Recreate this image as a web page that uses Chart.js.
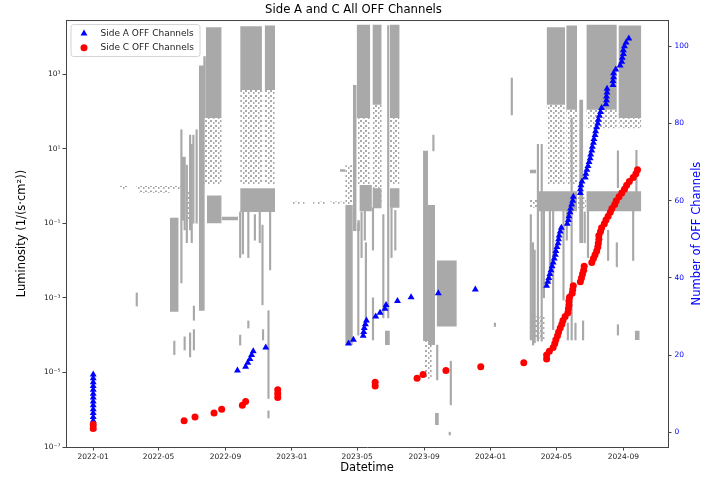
<!DOCTYPE html>
<html><head><meta charset="utf-8">
<script src="https://cdn.jsdelivr.net/npm/chart.js@4.4.1/dist/chart.umd.min.js"></script>
<style>html,body{margin:0;padding:0;background:#fff}canvas{display:block}</style>
</head><body>
<canvas id="c" width="707" height="477"></canvas>
<script>
// ---------- tick labels ----------
const xTickLabels = ['2022-01','2022-05','2022-09','2023-01','2023-05','2023-09','2024-01','2024-05','2024-09'];
const yTickValues = [1e-7, 1e-5, 1e-3, 1e-1, 1e1, 1e3];
const yTickLabels = ['10\u207B\u2077','10\u207B\u2075','10\u207B\u00B3','10\u207B\u00B9','10\u00B9','10\u00B3'];
const y2TickValues = [0, 20, 40, 60, 80, 100];

// ---------- Side A OFF channels (right axis) ----------
const sideADates = [
 '2022-01-01','2022-01-01','2022-01-01','2022-01-01','2022-01-01','2022-01-01','2022-01-01','2022-01-01',
 '2022-01-01','2022-01-01','2022-01-01','2022-01-01','2022-01-01','2022-01-01','2022-01-01',
 '2022-09-23','2022-10-08','2022-10-12','2022-10-16','2022-10-19','2022-10-22','2022-11-14',
 '2023-04-15','2023-04-24','2023-05-12','2023-05-13','2023-05-14','2023-05-16','2023-05-18',
 '2023-06-04','2023-06-12','2023-06-21','2023-06-23','2023-07-14','2023-08-08','2023-09-27','2023-12-04',
 '2024-04-13','2024-04-15','2024-04-17','2024-04-19','2024-04-21','2024-04-23','2024-04-25','2024-04-27','2024-04-29','2024-04-30',
 '2024-05-02','2024-05-04','2024-05-05','2024-05-06','2024-05-08','2024-05-10','2024-05-21','2024-05-23','2024-05-24','2024-05-26',
 '2024-05-27','2024-05-29','2024-05-31','2024-06-01','2024-06-14','2024-06-14','2024-06-15','2024-06-17','2024-06-23','2024-06-24',
 '2024-06-26','2024-06-28','2024-06-30','2024-07-02','2024-07-03','2024-07-05','2024-07-06','2024-07-08','2024-07-09','2024-07-11',
 '2024-07-12','2024-07-14','2024-07-16','2024-07-17','2024-07-19','2024-07-21','2024-07-23','2024-07-31','2024-08-01','2024-08-01',
 '2024-08-02','2024-08-02','2024-08-13','2024-08-13','2024-08-14','2024-08-14','2024-08-18','2024-08-26','2024-08-29','2024-08-30',
 '2024-09-01','2024-09-01','2024-09-03','2024-09-06','2024-09-11'
];
const sideAValues = [
 1,2,3,4,5,6,7,8,9,10,11,12,13,14,15,
 16,17,18,19,20,21,22,
 23,24,25,26,27,28,29,
 30,31,32,33,34,35,36,37,
 38,39,40,41,42,43,44,45,46,47,
 48,49,50,51,52,53,54,55,56,57,
 58,59,60,61,62,63,64,65,66,67,
 68,69,70,71,72,73,74,75,76,77,
 78,79,80,81,82,83,84,85,86,87,
 88,89,90,91,92,93,94,95,96,97,
 98,99,100,101,102
];

// ---------- Side C OFF channels (right axis) ----------
const sideCDates = [
 '2022-01-01','2022-01-01','2022-06-17','2022-07-07','2022-08-11','2022-08-25','2022-10-02','2022-10-08',
 '2022-12-06','2022-12-06','2022-12-06','2023-06-03','2023-06-03','2023-08-19','2023-08-30','2023-10-11','2023-12-14','2024-03-02',
 '2024-04-13','2024-04-13','2024-04-18','2024-04-25','2024-04-28','2024-04-30','2024-05-03','2024-05-05','2024-05-08','2024-05-11',
 '2024-05-13','2024-05-17','2024-05-22','2024-05-23','2024-05-24','2024-05-24','2024-05-25','2024-05-30','2024-05-31','2024-06-01',
 '2024-06-14','2024-06-16','2024-06-18','2024-06-20','2024-06-21','2024-07-05','2024-07-08','2024-07-11','2024-07-14','2024-07-16',
 '2024-07-17','2024-07-18','2024-07-18','2024-07-21','2024-07-23','2024-07-28','2024-07-31','2024-08-04','2024-08-08','2024-08-11',
 '2024-08-16','2024-08-19','2024-08-24','2024-08-29','2024-09-03','2024-09-07','2024-09-12','2024-09-19','2024-09-24','2024-09-27'
];
const sideCValues = [
 1,2,3,4,5,6,7,8,
 9,10,11,12,13,14,15,16,17,18,
 19,20,21,22,23,24,25,26,27,28,
 29,30,31,32,33,34,35,36,37,38,
 39,40,41,42,43,44,45,46,47,48,
 49,50,51,52,53,54,55,56,57,58,
 59,60,61,62,63,64,65,66,67,68
];

// ---------- Luminosity (left log axis): dense runs [start, end, low, high] ----------
const grayDense = [
 ['2022-05-22','2022-06-07', 4.2e-4, 0.14],
 ['2022-07-14','2022-07-25', 4.5e-4, 1.7e3],
 ['2022-07-22','2022-07-27', 66, 3.0e3],
 ['2022-07-27','2022-08-25', 66, 1.8e4],
 ['2022-07-29','2022-08-25', 0.1, 0.55],
 ['2022-08-25','2022-09-24', 0.12, 0.15],
 ['2022-09-28','2022-11-07', 370, 1.9e4],
 ['2022-11-12','2022-12-01', 370, 2.0e4],
 ['2022-09-28','2022-12-01', 0.2, 0.87],
 ['2023-03-30','2023-04-09', 2.4, 2.8],
 ['2023-04-09','2023-04-23', 5.4e-5, 0.31],
 ['2023-04-23','2023-04-30', 0.062, 510],
 ['2023-04-30','2023-05-25', 66, 2.1e4],
 ['2023-05-05','2023-05-28', 0.21, 1.05],
 ['2023-05-01','2023-05-06', 0.062, 0.12],
 ['2023-05-29','2023-06-15', 150, 2.1e4],
 ['2023-05-29','2023-06-15', 0.25, 0.87],
 ['2023-06-21','2023-06-30', 5.4e-5, 1.3e-4],
 ['2023-06-30','2023-07-18', 66, 2.1e4],
 ['2023-06-30','2023-07-18', 0.26, 0.87],
 ['2023-08-30','2023-09-08', 6.9e-5, 8.7],
 ['2023-09-08','2023-09-21', 5.4e-5, 0.31],
 ['2023-09-24','2023-10-31', 1.7e-4, 0.01],
 ['2023-09-21','2023-09-28', 3.9e-7, 8.1e-7],
 ['2024-03-13','2024-03-25', 2.2, 2.7],
 ['2024-04-13','2024-05-17', 150, 1.8e4],
 ['2024-05-19','2024-06-08', 110, 2.0e4],
 ['2024-06-25','2024-08-20', 110, 2.1e4],
 ['2024-08-23','2024-10-04', 66, 2.0e4],
 ['2024-03-28','2024-06-08', 0.21, 0.72],
 ['2024-06-25','2024-10-04', 0.21, 0.72],
 ['2024-09-22','2024-10-01', 7.4e-5, 1.3e-4]
];
// scattered (sparse) runs [start, end, low, high]
const graySparse = [
 ['2022-02-19','2022-03-06', 0.83, 1.0],
 ['2022-03-21','2022-06-15', 0.8, 1.0],
 ['2022-03-26','2022-05-22', 0.65, 0.75],
 ['2022-06-20','2022-07-05', 0.12, 0.72],
 ['2022-07-22','2022-08-25', 1.05, 66],
 ['2022-09-28','2022-11-07', 1.05, 370],
 ['2022-11-12','2022-12-01', 1.05, 370],
 ['2023-01-03','2023-01-16', 0.33, 0.38],
 ['2023-01-21','2023-01-25', 0.33, 0.38],
 ['2023-02-07','2023-02-12', 0.33, 0.38],
 ['2023-02-18','2023-03-03', 0.33, 0.38],
 ['2023-03-12','2023-04-09', 0.33, 0.38],
 ['2023-04-09','2023-04-23', 0.31, 3.6],
 ['2023-04-30','2023-05-25', 1.05, 66],
 ['2023-05-29','2023-06-15', 0.3, 150],
 ['2023-06-30','2023-07-18', 1.05, 66],
 ['2023-09-02','2023-09-15', 6.3e-6, 6.9e-5],
 ['2024-03-13','2024-04-01', 0.26, 0.42],
 ['2024-03-13','2024-04-10', 7.4e-5, 3.2e-4],
 ['2024-04-13','2024-05-17', 1.05, 150],
 ['2024-05-19','2024-06-08', 1.05, 110],
 ['2024-06-08','2024-06-25', 0.25, 0.5],
 ['2024-06-25','2024-08-20', 35, 110],
 ['2024-08-23','2024-10-04', 35, 66]
];
// single-day vertical runs [date, low, high]
const grayStreaks = [
 ['2022-03-22', 6.0e-4, 1.35e-3], ['2022-05-30', 3.0e-5, 6.9e-5], ['2022-06-12', 2.5e-3, 32],
 ['2022-06-15', 0.12, 5.9], ['2022-06-18', 0.066, 5.9], ['2022-06-18', 4.0e-5, 9.0e-5],
 ['2022-06-22', 0.03, 3.6], ['2022-06-28', 0.066, 23], ['2022-06-28', 2.6e-5, 1.15e-4],
 ['2022-07-01', 0.03, 13], ['2022-07-04', 0.1, 23], ['2022-07-05', 4.0e-5, 1.4e-4],
 ['2022-07-05', 2.5e-4, 6.0e-4], ['2022-07-10', 0.1, 32],
 ['2022-09-28', 0.012, 0.2], ['2022-10-03', 0.015, 0.2], ['2022-09-28', 5.4e-5, 1.0e-4],
 ['2022-10-13', 0.012, 0.3], ['2022-10-13', 1.55e-4, 2.4e-4], ['2022-10-25', 0.035, 0.17],
 ['2022-11-03', 0.03, 0.2], ['2022-11-08', 6.5e-4, 0.089], ['2022-11-09', 7.4e-5, 1.4e-4],
 ['2022-11-19', 2.0e-6, 4.5e-4], ['2022-11-19', 6.0e-7, 9.3e-7], ['2022-11-22', 5.6e-3, 0.2],
 ['2023-05-03', 1.0e-4, 0.1], ['2023-05-09', 0.012, 0.2], ['2023-05-15', 0.035, 0.26],
 ['2023-05-17', 2.4e-4, 0.03], ['2023-05-30', 7.4e-5, 1.0e-3], ['2023-05-30', 0.019, 0.26],
 ['2023-06-18', 2.9e-4, 0.17], ['2023-06-27', 2.9e-4, 2.0e4], ['2023-07-03', 0.012, 0.26],
 ['2023-07-10', 0.019, 0.22], ['2023-09-18', 8.7, 23], ['2023-09-25', 6.3e-6, 5.4e-5],
 ['2023-10-18', 2.1e-7, 2.5e-7], ['2023-10-20', 1.35e-6, 2.0e-5],
 ['2024-01-09', 1.7e-4, 2.1e-4], ['2024-02-09', 80, 780],
 ['2024-03-15', 7.4e-5, 0.17], ['2024-03-19', 5.4e-5, 0.03], ['2024-03-22', 6.2e-5, 0.019],
 ['2024-03-28', 6.9e-5, 13], ['2024-04-04', 6.9e-5, 13], ['2024-04-08', 1.0e-3, 0.38],
 ['2024-04-19', 2.6e-3, 0.21], ['2024-04-25', 1.4e-4, 0.21], ['2024-05-14', 8.7e-4, 0.42],
 ['2024-05-20', 0.035, 0.21], ['2024-05-22', 7.4e-5, 2.1e-4], ['2024-05-29', 7.4e-5, 66],
 ['2024-06-05', 7.4e-5, 2.1e-4], ['2024-06-14', 0.03, 200], ['2024-06-17', 0.03, 200],
 ['2024-06-19', 7.4e-5, 2.4e-4], ['2024-06-22', 0.03, 0.2], ['2024-06-28', 0.012, 0.21],
 ['2024-08-04', 0.01, 0.065], ['2024-08-20', 6.8e-3, 0.03], ['2024-08-22', 1.0e-4, 1.9e-4],
 ['2024-08-22', 0.9, 8.7], ['2024-09-19', 0.01, 0.21], ['2024-09-25', 0.7, 9]
];

// ---------- build ----------
const EPOCH = Date.UTC(2022, 0, 1);
const dayOf = s => (Date.parse(s) - EPOCH) / 864e5;
const FONT = "'DejaVu Sans', sans-serif";
const GRAY = 'rgb(169,169,169)';
// dotted texture for scattered regions
const tile = document.createElement('canvas');
tile.width = 5; tile.height = 5;
const tctx = tile.getContext('2d');
tctx.fillStyle = GRAY;
tctx.fillRect(0, 0, 2, 2);
tctx.fillRect(3, 2, 1.5, 2);
const GRAY_SPARSE = tctx.createPattern(tile, 'repeat');
Chart.defaults.font.family = FONT;

const datasets = [
  { label: 'Side C OFF Channels', type: 'scatter', yAxisID: 'y2', order: 0,
    data: sideCDates.map((d, i) => ({ x: dayOf(d), y: sideCValues[i] })),
    pointStyle: 'circle', pointRadius: 3.5, backgroundColor: '#ff0000', borderWidth: 0 },
  { label: 'Side A OFF Channels', type: 'scatter', yAxisID: 'y2', order: 1,
    data: sideADates.map((d, i) => ({ x: dayOf(d), y: sideAValues[i] })),
    pointStyle: 'triangle', pointRadius: 4, backgroundColor: '#0000ff', borderWidth: 0 },
  { label: 'streaks', type: 'bar', yAxisID: 'y', order: 2, grouped: false,
    data: grayStreaks.map(s => ({ x: dayOf(s[0]), y: [s[1], s[2]] })),
    backgroundColor: GRAY, barThickness: 1.5, borderWidth: 0 }
];
const blockSet = (b, color, order) => ({
  label: 'block', type: 'line', yAxisID: 'y', order,
  data: [{ x: dayOf(b[0]), y: b[3] }, { x: dayOf(b[1]), y: b[3] }],
  fill: { value: b[2] }, backgroundColor: color,
  borderColor: 'rgba(0,0,0,0)', borderWidth: 0, pointRadius: 0
});
grayDense.forEach(b => datasets.push(blockSet(b, GRAY, 3)));
graySparse.forEach(b => datasets.push(blockSet(b, GRAY_SPARSE, 4)));

const decor = {
  id: 'decor',
  afterDraw(chart) {
    const { ctx, chartArea: a } = chart;
    ctx.save();
    // top spine
    ctx.strokeStyle = '#444'; ctx.lineWidth = 1;
    ctx.beginPath(); ctx.moveTo(a.left, a.top + 0.5); ctx.lineTo(a.right, a.top + 0.5); ctx.stroke();
    // legend
    const lx = a.left + 4.5, ly = a.top + 4, lw = 129, lh = 32;
    ctx.fillStyle = 'rgba(255,255,255,0.85)'; ctx.strokeStyle = '#d4d4d4';
    ctx.beginPath(); ctx.roundRect(lx + 0.5, ly + 0.5, lw, lh, 2.5); ctx.fill(); ctx.stroke();
    const items = [chart.data.datasets[1], chart.data.datasets[0]];
    items.forEach((ds, i) => {
      const cy = ly + 9.5 + i * 14.3;
      ctx.fillStyle = ds.backgroundColor;
      Chart.helpers.drawPoint(ctx, { pointStyle: ds.pointStyle, radius: ds.pointRadius, borderWidth: 0 }, lx + 13.5, cy);
      ctx.fillStyle = '#222'; ctx.font = '9px ' + FONT;
      ctx.textAlign = 'left'; ctx.textBaseline = 'middle';
      ctx.fillText(ds.label, lx + 30, cy);
    });
    // right axis title
    ctx.translate(697, (a.top + a.bottom) / 2);
    ctx.rotate(-Math.PI / 2);
    ctx.fillStyle = '#0000ff'; ctx.font = '11.5px ' + FONT;
    ctx.textAlign = 'center'; ctx.textBaseline = 'middle';
    ctx.fillText('Number of OFF Channels', 0, 0);
    ctx.restore();
  }
};

new Chart(document.getElementById('c'), {
  type: 'scatter',
  data: { datasets },
  plugins: [decor],
  options: {
    responsive: false, animation: false, events: [], devicePixelRatio: 1,
    layout: { padding: 0 },
    plugins: {
      legend: { display: false }, tooltip: { enabled: false },
      title: { display: true, text: 'Side A and C All OFF Channels', color: '#000',
               font: { size: 11.7, weight: 'normal', family: FONT }, padding: { top: 2.5, bottom: 3.5 } }
    },
    scales: {
      x: {
        type: 'linear', position: 'bottom', min: -50, max: 1056, offset: false, bounds: 'data',
        afterBuildTicks: s => { s.ticks = xTickLabels.map(l => ({ value: dayOf(l + '-01') })); },
        afterFit: s => { s.height = 30; },
        ticks: { callback: (v, i) => xTickLabels[i], autoSkip: false, maxRotation: 0,
                 font: { size: 7.5 }, color: '#222', padding: 2 },
        grid: { offset: false, drawOnChartArea: false, drawTicks: true, tickLength: 3.5, color: '#444' },
        border: { display: true, color: '#444', width: 1 },
        title: { display: true, text: 'Datetime', color: '#000', font: { size: 11.5 }, padding: { top: 0, bottom: 2 } }
      },
      y: {
        type: 'logarithmic', position: 'left', min: 1e-7, max: 2.8e4, bounds: 'data',
        afterBuildTicks: s => { s.ticks = yTickValues.map(v => ({ value: v })); },
        afterFit: s => { s.width = 66; },
        ticks: { callback: (v, i) => yTickLabels[i], autoSkip: false, font: { size: 7.5 }, color: '#222', padding: 2 },
        grid: { offset: false, drawOnChartArea: false, drawTicks: true, tickLength: 3.5, color: '#444' },
        border: { display: true, color: '#444', width: 1 },
        title: { display: true, text: 'Luminosity (1/(s\u00B7cm\u00B2))', color: '#000', font: { size: 11.5 }, padding: { top: 15 } }
      },
      y2: {
        type: 'linear', position: 'right', min: -3.8, max: 106.8, bounds: 'data',
        afterBuildTicks: s => { s.ticks = y2TickValues.map(v => ({ value: v })); },
        afterFit: s => { s.width = 39; },
        ticks: { autoSkip: false, font: { size: 7.5 }, color: '#0000ff', padding: 3 },
        grid: { offset: false, drawOnChartArea: false, drawTicks: true, tickLength: 3.5, color: '#444' },
        border: { display: true, color: '#444', width: 1 }
      }
    }
  }
});
</script>
</body></html>
